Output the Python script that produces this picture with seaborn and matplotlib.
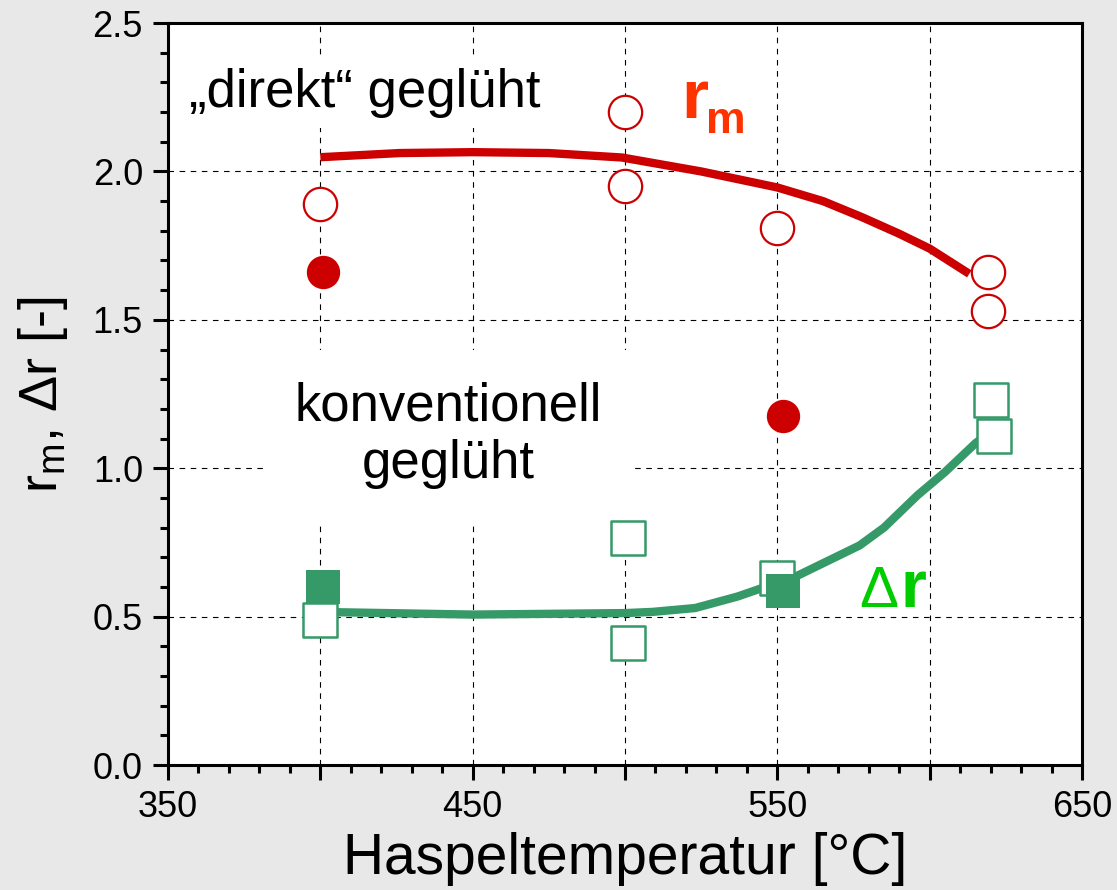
import matplotlib
matplotlib.use("Agg")
import matplotlib.pyplot as plt
import seaborn as sns
from matplotlib.ticker import FixedLocator, MultipleLocator, FixedFormatter

# r_m measurements, "direkt" geglüht (open circles)
rm_direkt_T = [400, 500, 500, 550, 619, 619]
rm_direkt_val = [1.89, 2.20, 1.95, 1.81, 1.66, 1.53]
# r_m measurements, konventionell geglüht (filled circles)
rm_konv_T = [401, 552]
rm_konv_val = [1.66, 1.175]
# delta r measurements, "direkt" geglüht (open squares)
dr_direkt_T = [400, 501, 501, 550, 620, 621]
dr_direkt_val = [0.49, 0.765, 0.41, 0.63, 1.23, 1.11]
# delta r measurements, konventionell geglüht (filled squares)
dr_konv_T = [401, 552]
dr_konv_val = [0.60, 0.585]

# trend curves
rm_trend_T = [400, 426, 450, 475, 499, 525, 550, 565, 578, 590, 600, 613]
rm_trend_val = [2.048, 2.062, 2.065, 2.062, 2.047, 2.0, 1.946, 1.90, 1.845, 1.79, 1.74, 1.655]
dr_trend_T = [405, 450, 500, 509, 523, 537, 546, 557, 577, 585, 596, 605, 615, 619]
dr_trend_val = [0.515, 0.507, 0.512, 0.516, 0.529, 0.568, 0.60, 0.64, 0.74, 0.80, 0.909, 0.987, 1.084, 1.115]

# axis ticks
x_major = [350, 400, 450, 500, 550, 600, 650]
x_major_labels = ["350", "", "450", "", "550", "", "650"]
y_major = [0.0, 0.5, 1.0, 1.5, 2.0, 2.5]
y_major_labels = ["0.0", "0.5", "1.0", "1.5", "2.0", "2.5"]

RED = "#cc0000"
GREEN = "#359968"
RM_TEXT = "#ff3300"
DR_TEXT = "#00cc00"

sns.set_theme(style="white")
plt.rcParams["font.family"] = ["Liberation Sans", "DejaVu Sans"]
plt.rcParams["mathtext.fontset"] = "custom"
plt.rcParams["mathtext.rm"] = "Liberation Sans"
plt.rcParams["mathtext.bf"] = "Liberation Sans:bold"

fig = plt.figure(figsize=(11.17, 8.90), dpi=100, facecolor="#e8e8e8")
ax = fig.add_axes([0.1504, 0.1404, 0.8183, 0.8337])
ax.set_facecolor("white")

# trend curves
sns.lineplot(x=rm_trend_T, y=rm_trend_val, ax=ax, color=RED, lw=6,
             sort=False, estimator=None, solid_capstyle="butt",
             solid_joinstyle="round", zorder=2)
sns.lineplot(x=dr_trend_T, y=dr_trend_val, ax=ax, color=GREEN, lw=6,
             sort=False, estimator=None, solid_capstyle="butt",
             solid_joinstyle="round", zorder=2)

# measured points
sns.scatterplot(x=rm_direkt_T, y=rm_direkt_val, ax=ax, marker="o", s=24**2,
                color="white", edgecolor=RED, linewidth=1.6, zorder=4)
sns.scatterplot(x=dr_direkt_T, y=dr_direkt_val, ax=ax, marker="s", s=24**2,
                color="white", edgecolor=GREEN, linewidth=1.8, zorder=4)
sns.scatterplot(x=rm_konv_T, y=rm_konv_val, ax=ax, marker="o", s=24**2,
                color=RED, edgecolor=RED, linewidth=0, zorder=5)
sns.scatterplot(x=dr_konv_T, y=dr_konv_val, ax=ax, marker="s", s=24**2,
                color=GREEN, edgecolor=GREEN, linewidth=0, zorder=5)

ax.set_xlim(350, 650)
ax.set_ylim(0, 2.5)

ax.xaxis.set_major_locator(FixedLocator(x_major))
ax.xaxis.set_major_formatter(FixedFormatter(x_major_labels))
ax.xaxis.set_minor_locator(MultipleLocator(10))
ax.yaxis.set_major_locator(FixedLocator(y_major))
ax.yaxis.set_major_formatter(FixedFormatter(y_major_labels))
ax.yaxis.set_minor_locator(MultipleLocator(0.1))

ax.tick_params(which="both", direction="out", bottom=True, left=True,
               top=False, right=False, color="black", width=2.2)
ax.tick_params(which="major", length=11, labelsize=26, pad=7, labelcolor="black")
ax.tick_params(which="minor", length=6)

for sp in ax.spines.values():
    sp.set_linewidth(2.2)
    sp.set_color("black")

ax.set_axisbelow(True)
ax.grid(True, which="major", color="black", linestyle=(0, (5, 5)), linewidth=0.8)

ax.set_xlabel("Haspeltemperatur [°C]", fontsize=41, labelpad=5, color="black")
ax.set_ylabel(r"r$_\mathregular{m}$, Δr [-]", fontsize=39, labelpad=16, color="black")

# annotations
ax.text(357, 2.265, "„direkt“ geglüht", fontsize=38, ha="left", va="center",
        color="black", zorder=3,
        bbox=dict(facecolor="white", edgecolor="none", boxstyle="square,pad=0.2"))
ax.text(442, 1.11, "konventionell\ngeglüht", fontsize=38, ha="center", va="center",
        color="black", linespacing=1.2, zorder=3,
        bbox=dict(facecolor="white", edgecolor="none", boxstyle="square,pad=0.6"))

ax.text(518.5, 2.18, "r", fontsize=50, fontweight="bold", color=RM_TEXT,
        ha="left", va="baseline", zorder=6)
ax.text(526.5, 2.13, "m", fontsize=32, fontweight="bold", color=RM_TEXT,
        ha="left", va="baseline", zorder=6)

ax.text(577.0, 0.532, "Δ", fontsize=42, color=DR_TEXT,
        ha="left", va="baseline", zorder=6)
ax.text(590.5, 0.532, "r", fontsize=48, fontweight="bold", color=DR_TEXT,
        ha="left", va="baseline", zorder=6)

fig.savefig("out.png", dpi=100, facecolor=fig.get_facecolor())
